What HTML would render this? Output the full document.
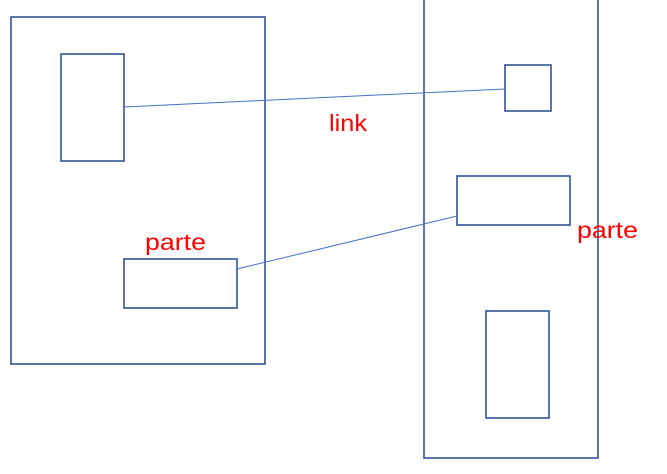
<!DOCTYPE html>
<html><head><meta charset="utf-8"><style>html,body{margin:0;padding:0;background:#fff;width:667px;height:474px;overflow:hidden}</style></head>
<body>
<svg width="667" height="474" viewBox="0 0 667 474" xmlns="http://www.w3.org/2000/svg">
<g fill="none" stroke="#2F5597" stroke-width="1.6">
<rect x="11" y="17" width="254" height="347"/>
<rect x="424" y="-5" width="174" height="463"/>
<rect x="61" y="54" width="63" height="107"/>
<rect x="124" y="259" width="113" height="49"/>
<rect x="505" y="65" width="46" height="46"/>
<rect x="457" y="176" width="113" height="49"/>
<rect x="486" y="311" width="63" height="107"/>
</g>
<g stroke="#4472C4" stroke-width="1">
<line x1="124" y1="107" x2="505" y2="89"/>
<line x1="237" y1="269" x2="457" y2="216"/>
</g>
<g fill="#FF0000" font-family="Liberation Sans, sans-serif" font-size="23">
<text x="329" y="131" textLength="38" lengthAdjust="spacingAndGlyphs">link</text>
<text x="145" y="250" textLength="61" lengthAdjust="spacingAndGlyphs">parte</text>
<text x="577" y="238" textLength="61" lengthAdjust="spacingAndGlyphs">parte</text>
</g>
</svg>
</body></html>
